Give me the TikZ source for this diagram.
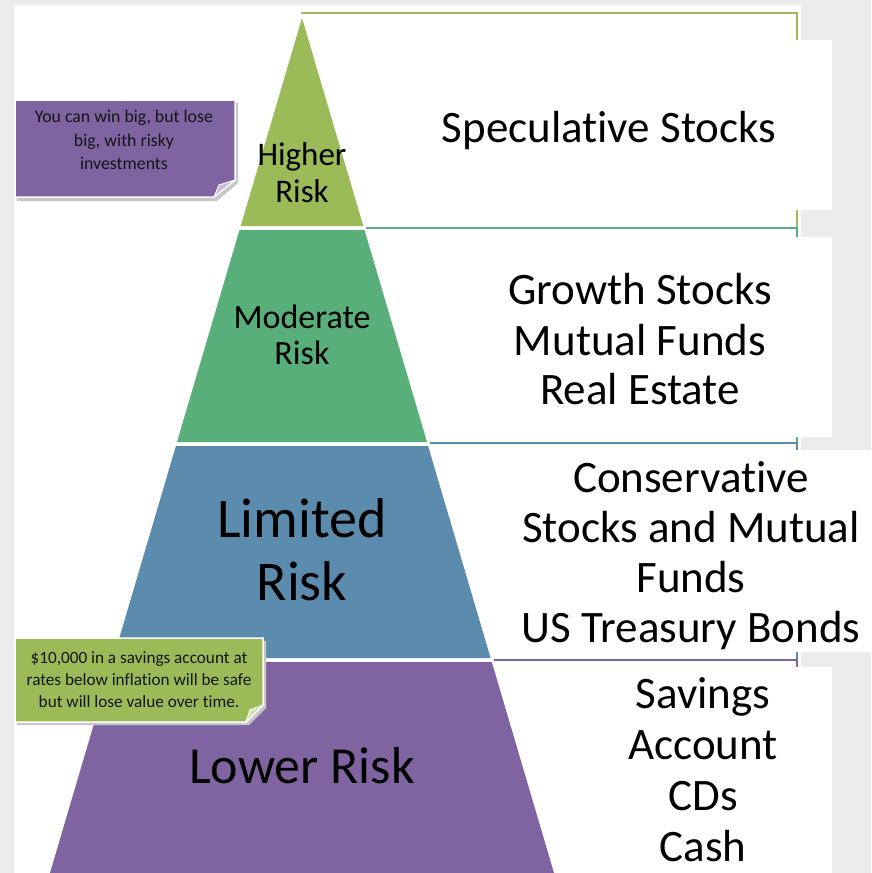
\documentclass[tikz,border=0pt]{standalone}
\usepackage{fontspec}
\setmainfont{Carlito}[Ligatures=NoCommon]
\definecolor{pagebg}{RGB}{236,236,236}
\definecolor{tierA}{RGB}{155,187,89}
\definecolor{tierB}{RGB}{88,175,121}
\definecolor{tierC}{RGB}{91,140,173}
\definecolor{tierD}{RGB}{128,100,162}
\definecolor{notetext}{RGB}{20,20,20}
\tikzset{
  bracket/.style={line width=2.5pt, line cap=rect},
  tierlabel/.style={anchor=base, inner sep=0pt, text=black},
  listline/.style={anchor=base, inner sep=0pt, text=black, font=\fontsize{45}{50}\selectfont},
  noteline/.style={anchor=base, inner sep=0pt, text=notetext, font=\fontsize{17.8}{20}\selectfont},
  notebox/.style={draw=white, line width=1.5pt, line join=miter},
}
\begin{document}
\begin{tikzpicture}[x=1pt,y=-1pt]
\useasboundingbox (0,0) rectangle (871,873);
% page and slide
\fill[pagebg] (0,0) rectangle (871,873);
\fill[white] (14,5) rectangle (801,873);

% brackets framing each tier's list
\draw[bracket, tierA] (302,13) -- (797,13) -- (797,228);
\draw[bracket, tierB] (367,228) -- (797,228) -- (797,443);
\draw[bracket, tierC] (431,443) -- (797,443) -- (797,660);
\draw[bracket, tierD] (495,660) -- (797,660) -- (797,873);

% white panels holding the lists
\fill[white] (370,40) rectangle (832,210);
\fill[white] (440,237) rectangle (832,437);
\fill[white] (492,450) rectangle (871,652);
\fill[white] (570,667) rectangle (832,873);

% pyramid tiers
\fill[tierA] (302,18) -- (363.3,226) -- (240.7,226) -- cycle;
\fill[tierB] (239.5,230) -- (364.5,230) -- (427.0,442) -- (177.0,442) -- cycle;
\fill[tierC] (175.9,446) -- (428.1,446) -- (490.6,658) -- (113.4,658) -- cycle;
\fill[tierD] (112.2,662) -- (491.8,662) -- (554.0,873) -- (50.0,873) -- cycle;

% tier labels
\node[tierlabel, font=\fontsize{33}{37}\selectfont] (hr1) at (302,165) {Higher};
\node[tierlabel, font=\fontsize{33}{37}\selectfont] (hr2) at (302,202) {Risk};
\node[tierlabel, font=\fontsize{34}{37}\selectfont] (mr1) at (302,328) {Moderate};
\node[tierlabel, font=\fontsize{34}{37}\selectfont] (mr2) at (302,364) {Risk};
\node[tierlabel, font=\fontsize{56}{63}\selectfont] (lr1) at (302,537) {Limited};
\node[tierlabel, font=\fontsize{56}{63}\selectfont] (lr2) at (302,600) {Risk};
\node[tierlabel, font=\fontsize{52}{60}\selectfont] (lw1) at (302,783) {Lower Risk};

% investment lists
\node[listline] (s1) at (609,142) {Speculative Stocks};
\node[listline] (g1) at (640,304) {Growth Stocks};
\node[listline] (g2) at (640,355) {Mutual Funds};
\node[listline] (g3) at (640,404) {Real Estate};
\node[listline] (c1) at (691,492) {Conservative};
\node[listline] (c2) at (691,542) {Stocks and Mutual};
\node[listline] (c3) at (691,592) {Funds};
\node[listline] (c4) at (691,642) {US Treasury Bonds};
\node[listline] (v1) at (703,708) {Savings};
\node[listline] (v2) at (703,759) {Account};
\node[listline] (v3) at (703,810) {CDs};
\node[listline] (v4) at (703,861) {Cash};

% sticky note: risky investments
\fill[black!22] (17,103) -- (238,103) -- (238,183) -- (217,201) -- (17,201) -- cycle;
\filldraw[notebox, fill=tierD] (15,100) -- (235,100) -- (235,180) -- (214,197) -- (15,197) -- cycle;
\filldraw[draw=white, line width=1pt, fill=tierD!45!white] (235,180) -- (214,197) -- (219,185) -- cycle;
\node[noteline] (p1) at (124,122) {You can win big, but lose};
\node[noteline] (p2) at (124,146) {big, with risky};
\node[noteline] (p3) at (124,169) {investments};

% sticky note: savings
\fill[black!22] (17,641) -- (266,641) -- (266,708) -- (249,725) -- (17,725) -- cycle;
\filldraw[notebox, fill=tierA] (15,638) -- (263,638) -- (263,705) -- (246,722) -- (15,722) -- cycle;
\filldraw[draw=white, line width=1pt, fill=tierA!45!white] (263,705) -- (246,722) -- (250,710) -- cycle;
\node[noteline, font=\fontsize{17.2}{20}\selectfont] (q1) at (139,663) {\$10,000 in a savings account at};
\node[noteline, font=\fontsize{17.2}{20}\selectfont] (q2) at (139,685) {rates below inflation will be safe};
\node[noteline, font=\fontsize{17.2}{20}\selectfont] (q3) at (139,707) {but will lose value over time.};
\end{tikzpicture}
\end{document}
